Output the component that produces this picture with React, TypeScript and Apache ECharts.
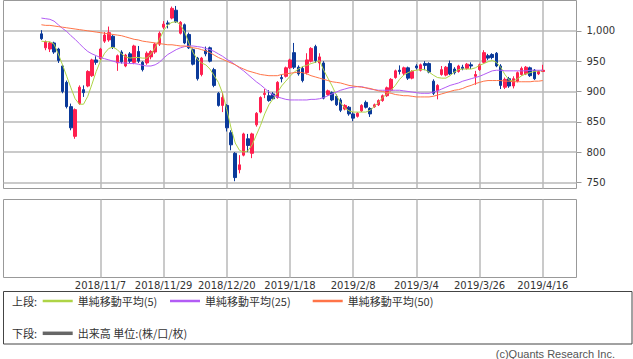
import { useEffect, useRef } from 'react';
import * as echarts from 'echarts';

const dates = [
  '2018/10/18', '2018/10/19', '2018/10/22', '2018/10/23', '2018/10/24', '2018/10/25', '2018/10/26', '2018/10/29', '2018/10/30', '2018/10/31',
  '2018/11/1', '2018/11/2', '2018/11/5', '2018/11/6', '2018/11/7', '2018/11/8', '2018/11/9', '2018/11/12', '2018/11/13', '2018/11/14',
  '2018/11/15', '2018/11/16', '2018/11/19', '2018/11/20', '2018/11/21', '2018/11/22', '2018/11/26', '2018/11/27', '2018/11/28', '2018/11/29',
  '2018/11/30', '2018/12/3', '2018/12/4', '2018/12/5', '2018/12/6', '2018/12/7', '2018/12/10', '2018/12/11', '2018/12/12', '2018/12/13',
  '2018/12/14', '2018/12/17', '2018/12/18', '2018/12/19', '2018/12/20', '2018/12/21', '2018/12/25', '2018/12/26', '2018/12/27', '2018/12/28',
  '2019/1/4', '2019/1/7', '2019/1/8', '2019/1/9', '2019/1/10', '2019/1/11', '2019/1/15', '2019/1/16', '2019/1/17', '2019/1/18',
  '2019/1/21', '2019/1/22', '2019/1/23', '2019/1/24', '2019/1/25', '2019/1/28', '2019/1/29', '2019/1/30', '2019/1/31', '2019/2/1',
  '2019/2/4', '2019/2/5', '2019/2/6', '2019/2/7', '2019/2/8', '2019/2/12', '2019/2/13', '2019/2/14', '2019/2/15', '2019/2/18',
  '2019/2/19', '2019/2/20', '2019/2/21', '2019/2/22', '2019/2/25', '2019/2/26', '2019/2/27', '2019/2/28', '2019/3/1', '2019/3/4',
  '2019/3/5', '2019/3/6', '2019/3/7', '2019/3/8', '2019/3/11', '2019/3/12', '2019/3/13', '2019/3/14', '2019/3/15', '2019/3/18',
  '2019/3/19', '2019/3/20', '2019/3/22', '2019/3/25', '2019/3/26', '2019/3/27', '2019/3/28', '2019/3/29', '2019/4/1', '2019/4/2',
  '2019/4/3', '2019/4/4', '2019/4/5', '2019/4/8', '2019/4/9', '2019/4/10', '2019/4/11', '2019/4/12', '2019/4/15', '2019/4/16',
];

const opens = [
  995, 972, 970, 980, 970, 942, 915, 875, 826, 880,
  903, 909, 926, 952, 954, 983, 985, 991, 947, 965,
  942, 962, 948, 966, 948, 947, 957, 965, 978, 1006,
  1013, 1021, 1034, 996, 1010, 994, 969, 955, 928, 968,
  972, 936, 897, 877, 877, 832, 798, 771, 795, 822,
  798, 845, 866, 895, 893, 896, 890, 923, 925, 939,
  964, 940, 938, 931, 950, 974, 947, 947, 895, 898,
  892, 886, 871, 874, 863, 859, 868, 882, 872, 875,
  878, 885, 893, 902, 923, 935, 930, 939, 922, 942,
  935, 946, 946, 917, 901, 928, 927, 946, 937, 933,
  940, 938, 944, 925, 936, 948, 959, 961, 963, 942,
  907, 921, 909, 917, 928, 929, 939, 935, 929, 933,
];
const closes = [
  987, 982, 980, 965, 951, 900, 875, 840, 870, 907,
  898, 933, 952, 948, 970, 993, 997, 973, 959, 949,
  960, 950, 975, 950, 936, 963, 966, 978, 996, 1011,
  1011, 1037, 1015, 1014, 980, 972, 945, 921, 955, 962,
  950, 910, 877, 890, 840, 812, 758, 779, 830, 811,
  830, 864, 890, 897, 885, 888, 915, 921, 939, 952,
  940, 929, 918, 952, 971, 951, 957, 889, 901, 886,
  878, 869, 877, 863, 856, 864, 877, 874, 863, 878,
  885, 893, 906, 920, 934, 933, 939, 922, 933, 939,
  944, 943, 932, 897, 910, 936, 940, 929, 931, 942,
  938, 945, 942, 928, 944, 964, 955, 956, 942, 910,
  920, 909, 921, 931, 938, 940, 926, 921, 933, 935,
];
const lows = [
  985, 968, 965, 962, 947, 897, 872, 836, 822, 878,
  891, 907, 924, 944, 952, 980, 982, 970, 934, 946,
  940, 947, 945, 947, 933, 944, 953, 962, 975, 1003,
  1004, 1019, 1013, 994, 978, 970, 943, 918, 925, 958,
  948, 907, 875, 866, 834, 803, 752, 765, 793, 800,
  790, 842, 864, 889, 883, 886, 888, 915, 923, 937,
  937, 926, 915, 928, 948, 947, 935, 887, 893, 884,
  876, 866, 869, 860, 851, 857, 866, 872, 858, 873,
  876, 883, 891, 900, 921, 928, 927, 919, 920, 936,
  933, 935, 930, 894, 887, 926, 925, 927, 928, 931,
  935, 936, 937, 911, 934, 946, 952, 953, 940, 904,
  904, 906, 905, 915, 926, 927, 924, 919, 927, 932,
];
const highs = [
  1001, 984, 982, 982, 972, 944, 918, 880, 872, 910,
  910, 935, 954, 958, 972, 998, 1007, 993, 961, 968,
  962, 965, 977, 975, 950, 966, 968, 980, 999, 1016,
  1017, 1040, 1041, 1016, 1012, 997, 971, 957, 957, 974,
  974, 939, 899, 898, 879, 836, 800, 795, 832, 830,
  832, 866, 892, 904, 902, 899, 917, 928, 941, 954,
  980, 943, 941, 963, 973, 977, 963, 950, 903, 900,
  895, 889, 879, 876, 866, 866, 879, 885, 874, 880,
  887, 895, 908, 922, 936, 943, 941, 941, 935, 945,
  946, 950, 948, 920, 912, 942, 942, 951, 940, 944,
  944, 947, 948, 934, 946, 968, 962, 963, 965, 945,
  923, 924, 925, 933, 941, 942, 941, 937, 935, 944,
];

const ma5 = [
  983, 982, 982, 978, 962, 944, 925, 906, 888, 879,
  879, 892, 912, 933, 950, 963, 971, 973, 969, 962,
  957, 955, 956, 956, 955, 955, 962, 972, 986, 1000,
  1010, 1014, 1015, 1010, 998, 980, 964, 953, 947, 944,
  937, 926, 915, 897, 870, 840, 815, 803, 800, 802,
  812, 828, 844, 863, 878, 888, 898, 909, 917, 925,
  932, 937, 941, 943, 946, 948, 951, 935, 922, 909,
  894, 881, 873, 868, 866, 866, 866, 866, 869, 875,
  882, 890, 896, 902, 910, 920, 927, 931, 934, 935,
  936, 936, 932, 927, 923, 922, 922, 926, 932, 936,
  937, 937, 937, 939, 943, 946, 949, 951, 948, 940,
  928, 919, 917, 921, 926, 929, 931, 933, 934, 934,
];
const ma25 = [
  1021, 1020, 1019, 1016, 1010, 1004, 999, 992, 986, 979,
  972, 966, 962, 959, 956, 954, 952, 950, 948, 947,
  947, 946, 946, 945, 943, 942, 942, 944, 948, 955,
  961, 965, 969, 972, 974, 975, 975, 974, 973, 971,
  969, 966, 962, 958, 953, 949, 944, 939, 934, 928,
  922, 916, 911, 905, 899, 894, 891, 889, 887, 886,
  886, 886, 886, 886, 887, 887, 888, 890, 893, 896,
  899, 902, 904, 906, 907, 908, 908, 906, 904, 903,
  902, 902, 902, 902, 902, 902, 901, 900, 899, 898,
  897, 897, 897, 899, 901, 904, 907, 910, 912, 914,
  917, 919, 921, 923, 925, 928, 931, 934, 935, 935,
  934, 934, 934, 934, 934, 934, 935, 935, 935, 935,
];
const ma50 = [
  1010, 1009, 1009, 1008, 1007, 1006, 1005, 1004, 1003, 1002,
  1001, 1000, 999, 998, 997, 996, 995, 994, 993, 992,
  990, 988, 986, 985, 983, 982, 981, 980, 979, 978,
  977, 977, 976, 975, 975, 974, 972, 971, 969, 967,
  964, 960, 956, 953, 950, 947, 944, 940, 937, 934,
  932, 930, 928, 927, 926, 926, 926, 928, 929, 930,
  931, 932, 931, 929, 926, 924, 922, 920, 918, 916,
  915, 914, 912, 910, 909, 908, 907, 906, 905, 903,
  901, 900, 898, 897, 895, 894, 893, 893, 892, 891,
  891, 891, 891, 892, 894, 896, 898, 900, 902, 903,
  905, 908, 910, 913, 915, 917, 918, 918, 918, 918,
  917, 917, 916, 916, 916, 916, 916, 917, 917, 918,
];

const yTickValues = [750, 800, 850, 900, 950, 1000];
const labelDates = ['2018/11/7', '2018/11/29', '2018/12/20', '2019/1/18', '2019/2/8', '2019/3/4', '2019/3/26', '2019/4/16'];
const PAD_BEFORE = 9;
const PAD_AFTER = 8;

const CJK = '"Noto Sans CJK JP", sans-serif';
const LATIN = '"DejaVu Sans", sans-serif';

export default function App() {
  const ref = useRef<HTMLDivElement>(null);

  useEffect(() => {
    if (!ref.current) return;
    const chart = echarts.init(ref.current, null, { renderer: 'svg' });

    const before = Array.from({ length: PAD_BEFORE }, (_, k) => `b${k}`);
    const after = Array.from({ length: PAD_AFTER }, (_, k) => `a${k}`);
    const categories = [...before, ...dates, ...after];
    const padB = before.map(() => '-');
    const padA = after.map(() => '-');
    const labelIdx = new Set(labelDates.map((d) => PAD_BEFORE + dates.indexOf(d)));
    const showIdx = (index: number) => labelIdx.has(index);

    const candles = dates.map((_, i) => [opens[i], closes[i], lows[i], highs[i]]);

    const gridLine = { color: '#b9b9b9', width: 1.5 };

    const legendCommon = {
      orient: 'horizontal',
      padding: 0,
      itemWidth: 30,
      itemHeight: 2.5,
      icon: 'rect',
      selectedMode: false,
      textStyle: { fontSize: 11, color: '#333', fontFamily: CJK },
    };

    const option: any = {
      animation: false,
      backgroundColor: '#fff',
      grid: [
        { left: 3.5, top: 0.5, width: 573, height: 188, show: true, borderColor: '#999', borderWidth: 1 },
        { left: 3.5, top: 199.5, width: 573, height: 78, show: true, borderColor: '#999', borderWidth: 1 },
      ],
      xAxis: [
        {
          type: 'category', gridIndex: 0, data: categories, boundaryGap: false,
          axisLine: { show: false }, axisTick: { show: false }, axisLabel: { show: false },
          splitLine: { show: true, interval: showIdx, lineStyle: gridLine },
        },
        {
          type: 'category', gridIndex: 1, data: categories, boundaryGap: false,
          axisLine: { show: false }, axisTick: { show: false },
          axisLabel: { show: true, interval: showIdx, margin: 3, fontSize: 10, color: '#333', fontFamily: LATIN },
          splitLine: { show: true, interval: showIdx, lineStyle: gridLine },
        },
      ],
      yAxis: [
        {
          type: 'value', gridIndex: 0, min: 740, max: 1050, position: 'right',
          axisLine: { show: false }, splitLine: { show: false },
          axisTick: { show: true, customValues: yTickValues, length: 5, lineStyle: { color: '#999' } },
          axisLabel: {
            customValues: yTickValues, margin: 10, fontSize: 10, color: '#333', fontFamily: LATIN,
            formatter: (v: number) => v.toLocaleString('en-US'),
          },
        },
        { type: 'value', gridIndex: 1, min: 0, max: 1, show: false },
      ],
      legend: [
        { ...legendCommon, data: ['単純移動平均(5)'], left: 42.7, top: 295.5 },
        { ...legendCommon, data: ['単純移動平均(25)'], left: 170, top: 295.5 },
        { ...legendCommon, data: ['単純移動平均(50)'], left: 312.7, top: 295.5 },
        { ...legendCommon, itemHeight: 3.5, data: ['出来高 単位:(株/口/枚)'], left: 42.7, top: 327.8 },
      ],
      graphic: [
        {
          type: 'rect', silent: true,
          shape: { x: 3.5, y: 291.5, width: 628.5, height: 52.5 },
          style: { fill: 'none', stroke: '#444', lineWidth: 1 },
        },
        {
          type: 'text', x: 12, y: 301, silent: true,
          style: { text: '上段:', fontSize: 11, fontFamily: CJK, fill: '#333', verticalAlign: 'middle' },
        },
        {
          type: 'text', x: 12, y: 333, silent: true,
          style: { text: '下段:', fontSize: 11, fontFamily: CJK, fill: '#333', verticalAlign: 'middle' },
        },
        {
          type: 'text', x: 615, y: 354, silent: true,
          style: { text: '(c)Quants Research Inc.', fontSize: 11, fontFamily: '"Liberation Sans", sans-serif', fill: '#555', align: 'right', verticalAlign: 'middle' },
        },
      ],
      series: [
        {
          name: 'price', type: 'candlestick', xAxisIndex: 0, yAxisIndex: 0, z: 2,
          barWidth: 3,
          data: [...padB, ...candles, ...padA],
          itemStyle: { color: '#ff1f4f', color0: '#0b3a9a', borderColor: '#ff1f4f', borderColor0: '#0b3a9a', borderWidth: 1 },
          markLine: {
            silent: true, z: 1, symbol: ['none', 'none'], label: { show: false },
            lineStyle: { color: '#b9b9b9', width: 1.5, type: 'solid' },
            emphasis: { disabled: true },
            data: yTickValues.map((v) => ({ yAxis: v })),
          },
        },
        {
          name: '単純移動平均(5)', type: 'line', xAxisIndex: 0, yAxisIndex: 0, z: 3,
          symbol: 'none', color: '#aed446', lineStyle: { width: 1, color: '#aed446' },
          data: [...padB, ...ma5, ...padA],
        },
        {
          name: '単純移動平均(25)', type: 'line', xAxisIndex: 0, yAxisIndex: 0, z: 3,
          symbol: 'none', color: '#b35cf5', lineStyle: { width: 1, color: '#b35cf5' },
          data: [...padB, ...ma25, ...padA],
        },
        {
          name: '単純移動平均(50)', type: 'line', xAxisIndex: 0, yAxisIndex: 0, z: 3,
          symbol: 'none', color: '#ff7448', lineStyle: { width: 1, color: '#ff7448' },
          data: [...padB, ...ma50, ...padA],
        },
        {
          name: '出来高 単位:(株/口/枚)', type: 'bar', xAxisIndex: 1, yAxisIndex: 1,
          color: '#666', data: [],
        },
      ],
    };

    chart.setOption(option);
    return () => chart.dispose();
  }, []);

  return <div ref={ref} style={{ position: 'fixed', left: 0, top: 0, width: 633, height: 359 }} />;
}
